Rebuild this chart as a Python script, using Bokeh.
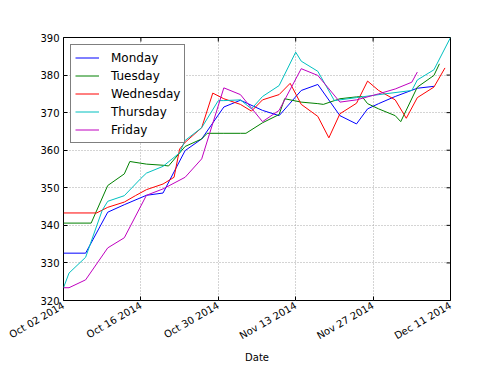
import pandas as pd
from math import pi
from bokeh.plotting import figure
from bokeh.models import FixedTicker, Range1d
from bokeh.embed import file_html
from bokeh.resources import INLINE

# ---- data ----
series_names = ["Monday", "Tuesday", "Wednesday", "Thursday", "Friday"]
series_colors = ["#0000ff", "#008000", "#ff0000", "#00bfbf", "#bf00bf"]

mon_dates = ["2014-10-02", "2014-10-06", "2014-10-10", "2014-10-13", "2014-10-17", "2014-10-20",
             "2014-10-24", "2014-10-27", "2014-10-31", "2014-11-03", "2014-11-07", "2014-11-10",
             "2014-11-14", "2014-11-17", "2014-11-21", "2014-11-24", "2014-11-26", "2014-11-28",
             "2014-12-01", "2014-12-05", "2014-12-08"]
mon_vals = [332.6, 332.6, 343.5, 345.5, 348.0, 348.6, 359.9, 363.0, 371.5, 373.3, 370.6, 369.2,
            375.9, 377.5, 369.2, 367.0, 371.0, 372.4, 374.3, 376.5, 377.0]

tue_dates = ["2014-10-02", "2014-10-07", "2014-10-10", "2014-10-13", "2014-10-14", "2014-10-17",
             "2014-10-20", "2014-10-21", "2014-10-24", "2014-10-27", "2014-10-28", "2014-10-31",
             "2014-11-03", "2014-11-04", "2014-11-07", "2014-11-10", "2014-11-11", "2014-11-14",
             "2014-11-17", "2014-11-18", "2014-11-21", "2014-11-24", "2014-11-25", "2014-11-26",
             "2014-11-28", "2014-12-01", "2014-12-02", "2014-12-05", "2014-12-08", "2014-12-09"]
tue_vals = [340.6, 340.6, 350.6, 353.7, 357.0, 356.3, 356.0, 355.8, 361.0, 363.0, 364.5, 364.5,
            364.5, 364.5, 367.3, 369.5, 373.7, 372.8, 372.4, 372.2, 373.7, 374.2, 374.3, 372.4,
            371.0, 369.2, 367.6, 376.8, 379.9, 383.0]

wed_dates = ["2014-10-02", "2014-10-08", "2014-10-10", "2014-10-13", "2014-10-15", "2014-10-17",
             "2014-10-20", "2014-10-22", "2014-10-23", "2014-10-24", "2014-10-27", "2014-10-29",
             "2014-10-31", "2014-11-03", "2014-11-05", "2014-11-07", "2014-11-10", "2014-11-12",
             "2014-11-14", "2014-11-17", "2014-11-19", "2014-11-21", "2014-11-24", "2014-11-26",
             "2014-11-28", "2014-12-01", "2014-12-03", "2014-12-05", "2014-12-08", "2014-12-10"]
wed_vals = [343.3, 343.3, 344.8, 346.2, 347.9, 349.5, 351.0, 352.8, 360.3, 362.1, 366.0, 375.2,
            373.7, 372.2, 370.4, 373.4, 374.8, 377.8, 372.2, 369.0, 363.3, 369.7, 372.5, 378.4,
            375.9, 373.4, 368.5, 374.0, 376.8, 381.9]

thu_dates = ["2014-10-02", "2014-10-03", "2014-10-06", "2014-10-09", "2014-10-10", "2014-10-13",
             "2014-10-16", "2014-10-17", "2014-10-20", "2014-10-23", "2014-10-24", "2014-10-27",
             "2014-10-30", "2014-10-31", "2014-11-03", "2014-11-05", "2014-11-07", "2014-11-10",
             "2014-11-13", "2014-11-14", "2014-11-17", "2014-11-20", "2014-11-21", "2014-11-24",
             "2014-11-27", "2014-12-04", "2014-12-05", "2014-12-08", "2014-12-11"]
thu_vals = [323.4, 327.3, 331.5, 344.0, 346.4, 347.9, 352.5, 353.9, 355.7, 359.3, 362.6, 366.0,
            373.2, 373.2, 373.4, 371.0, 374.3, 377.2, 386.1, 383.7, 381.0, 373.2, 373.4, 374.0,
            374.6, 375.9, 378.7, 381.4, 390.0]

fri_dates = ["2014-10-02", "2014-10-03", "2014-10-06", "2014-10-10", "2014-10-13", "2014-10-17",
             "2014-10-20", "2014-10-24", "2014-10-27", "2014-10-31", "2014-11-03", "2014-11-07",
             "2014-11-10", "2014-11-14", "2014-11-17", "2014-11-21", "2014-11-24", "2014-11-28",
             "2014-12-01", "2014-12-04", "2014-12-05"]
fri_vals = [323.4, 323.4, 325.5, 334.0, 336.7, 348.0, 349.7, 352.8, 357.7, 376.6, 374.8, 367.6,
            370.6, 381.7, 379.9, 372.8, 373.4, 375.0, 376.3, 378.1, 380.8]

x_tick_dates = ["2014-10-02", "2014-10-16", "2014-10-30", "2014-11-13", "2014-11-27", "2014-12-11"]
x_tick_labels = ["Oct 02 2014", "Oct 16 2014", "Oct 30 2014", "Nov 13 2014", "Nov 27 2014", "Dec 11 2014"]
y_ticks = [320, 330, 340, 350, 360, 370, 380, 390]
x_label = "Date"

# ---- figure ----
FONT = "DejaVu Sans"
tick_ms = [pd.Timestamp(d).value // 10**6 for d in x_tick_dates]
FRAME_W, FRAME_H = 387, 263

p = figure(width=490, height=372, x_axis_type="datetime",
           x_range=Range1d(tick_ms[0], tick_ms[-1]), y_range=Range1d(y_ticks[0], y_ticks[-1]),
           output_backend="svg", toolbar_location=None,
           min_border_left=63, min_border_right=40, min_border_top=37, min_border_bottom=72)
p.background_fill_color = "white"
p.border_fill_color = "white"
p.outline_line_color = "black"
p.outline_line_width = 1

all_dates = [mon_dates, tue_dates, wed_dates, thu_dates, fri_dates]
all_vals = [mon_vals, tue_vals, wed_vals, thu_vals, fri_vals]
for name, col, ds, vs in zip(series_names, series_colors, all_dates, all_vals):
    p.line(pd.to_datetime(ds), vs, line_color=col, line_width=1, legend_label=name)

# axes
xa = p.xaxis[0]
xa.ticker = FixedTicker(ticks=tick_ms)
xa.major_label_overrides = {t: lab for t, lab in zip(tick_ms, x_tick_labels)}
xa.major_label_orientation = pi / 6
xa.axis_label = x_label
ya = p.yaxis[0]
ya.ticker = FixedTicker(ticks=y_ticks)

for ax in (xa, ya):
    ax.major_label_text_font = FONT
    ax.major_label_text_font_size = "10px"
    ax.major_label_text_color = "black"
    ax.axis_label_text_font = FONT
    ax.axis_label_text_font_size = "10px"
    ax.axis_label_text_font_style = "normal"
    ax.axis_label_text_color = "black"
    ax.axis_line_color = None
    ax.major_tick_in = 4
    ax.major_tick_out = 0
    ax.major_tick_line_color = "black"
    ax.minor_tick_line_color = None
    ax.major_label_standoff = 4
xa.axis_label_standoff = 3

# inward ticks on the right and top edges (matplotlib classic style)
tick_len_x = (tick_ms[-1] - tick_ms[0]) / FRAME_W * 4
tick_len_y = (y_ticks[-1] - y_ticks[0]) / FRAME_H * 4
p.segment(x0=[tick_ms[-1] - tick_len_x] * len(y_ticks), y0=y_ticks,
          x1=[tick_ms[-1]] * len(y_ticks), y1=y_ticks, line_color="black", line_width=1)
p.segment(x0=tick_ms, y0=[y_ticks[-1] - tick_len_y] * len(tick_ms),
          x1=tick_ms, y1=[y_ticks[-1]] * len(tick_ms), line_color="black", line_width=1)

# grid
for g in (p.xgrid[0], p.ygrid[0]):
    g.grid_line_color = "#a8a8a8"
    g.grid_line_dash = "1 2"
    g.grid_line_width = 1
p.xgrid[0].ticker = FixedTicker(ticks=tick_ms)
p.ygrid[0].ticker = FixedTicker(ticks=y_ticks)

# legend
lg = p.legend[0]
lg.location = "top_left"
lg.margin = 7
lg.padding = 4
lg.spacing = 1
lg.glyph_width = 24
lg.glyph_height = 17
lg.label_height = 17
lg.label_standoff = 12
lg.label_text_font = FONT
lg.label_text_font_size = "12px"
lg.label_text_color = "black"
lg.border_line_color = "black"
lg.border_line_width = 1
lg.background_fill_color = "white"
lg.background_fill_alpha = 1

open("out.html", "w").write(file_html(p, INLINE))
